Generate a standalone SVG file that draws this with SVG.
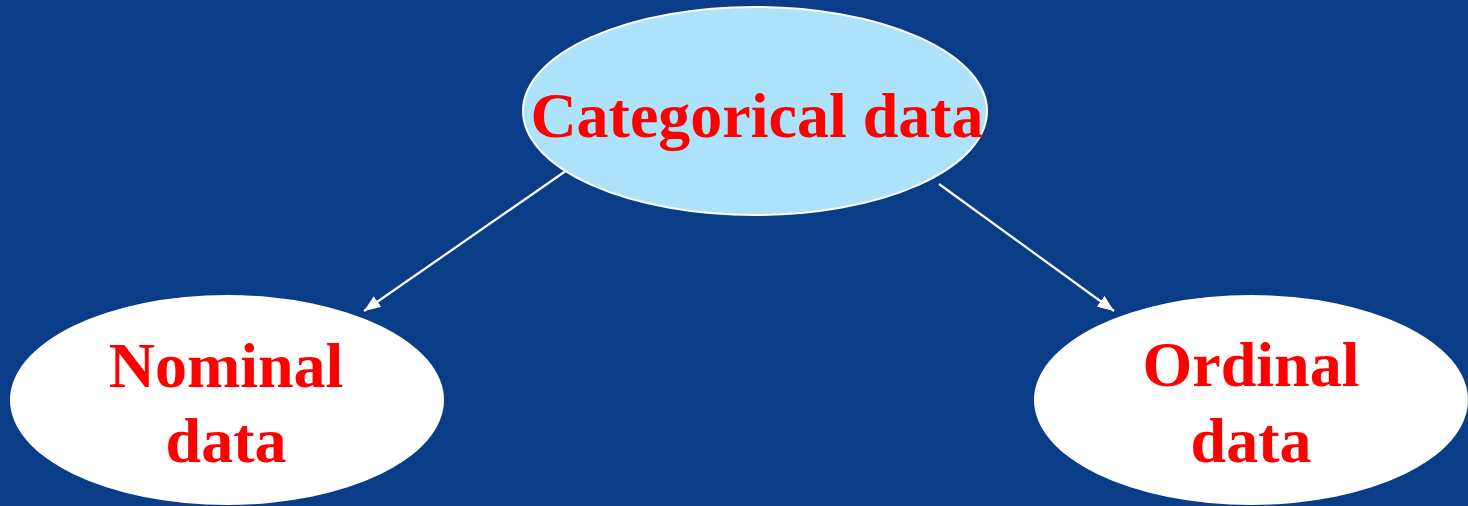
<svg xmlns="http://www.w3.org/2000/svg" width="1468" height="506" viewBox="0 0 1468 506">
<style>
.lbl{font-family:"Liberation Serif","Times New Roman",serif;font-weight:bold;font-size:64px;fill:#ff0000;text-anchor:middle}
.edge{stroke:#ffffff;stroke-width:2.2;fill:none}
</style>
<defs>
<marker id="ah" viewBox="0 0 10 8" refX="10" refY="4" markerWidth="7.5" markerHeight="6" markerUnits="strokeWidth" orient="auto">
<path d="M0,0 L10,4 L0,8 Z" fill="#ffffff"/>
</marker>
</defs>
<rect width="1468" height="506" fill="#0a3d87"/>
<g id="connectors">
<line class="edge" x1="570" y1="168" x2="364" y2="311" marker-end="url(#ah)"/>
<line class="edge" x1="939" y1="184" x2="1114" y2="311" marker-end="url(#ah)"/>
</g>
<g id="categorical">
<ellipse cx="755" cy="111" rx="232" ry="104" fill="#ade2fb" stroke="#ffffff" stroke-width="2"/>
<text class="lbl" x="757" y="137">Categorical data</text>
</g>
<g id="nominal">
<ellipse cx="227" cy="400" rx="217" ry="105" fill="#ffffff"/>
<text class="lbl" x="226" y="387">Nominal</text>
<text class="lbl" x="226" y="462">data</text>
</g>
<g id="ordinal">
<ellipse cx="1251" cy="400" rx="217" ry="105" fill="#ffffff"/>
<text class="lbl" x="1251" y="386">Ordinal</text>
<text class="lbl" x="1251" y="462">data</text>
</g>
</svg>
